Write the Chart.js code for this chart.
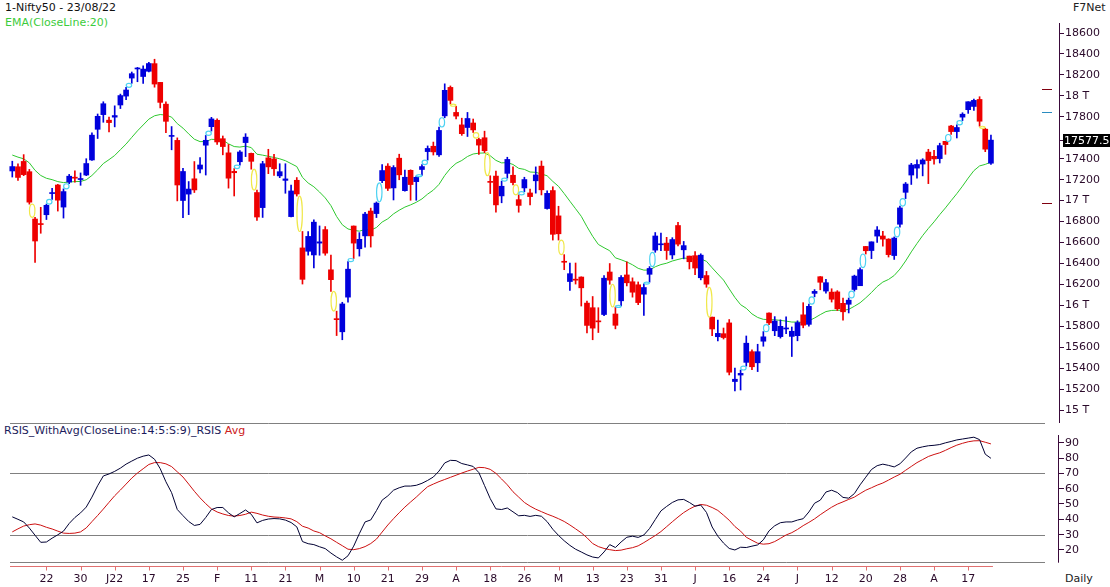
<!DOCTYPE html>
<html>
<head>
<meta charset="utf-8">
<script src="https://cdn.jsdelivr.net/npm/chart.js@4"></script>
<style>
  body { margin: 0; background: #fff; width: 1110px; height: 587px; overflow: hidden; position: relative; font-family: "DejaVu Sans", Verdana, sans-serif; }
  canvas { position: absolute; left: 0; }
  .lbl { position: absolute; font-size: 11px; line-height: 13px; white-space: nowrap; }
</style>
</head>
<body>
<div class="lbl" style="left:5px;top:1px;color:#111">1-Nifty50 - 23/08/22</div>
<div class="lbl" style="left:5px;top:16px;color:#3ccc3c">EMA(CloseLine:20)</div>
<div class="lbl" style="left:1073px;top:1px;color:#222">F7Net</div>
<div class="lbl" style="left:4px;top:424px;color:#1c1c5c">RSIS_WithAvg(CloseLine:14:5:S:9)_RSIS <span style="color:#cc2020">Avg</span></div>
<div class="lbl" style="left:1065px;top:572px;color:#222">Daily</div>
<canvas id="priceChart" width="1110" height="423" style="top:0"></canvas>
<canvas id="rsiChart" width="1110" height="164" style="top:423px"></canvas>
<script>
const dates = [
  '14/12/21','15/12/21','16/12/21','17/12/21','20/12/21','21/12/21','22/12/21','23/12/21','24/12/21','27/12/21','28/12/21','29/12/21','30/12/21','31/12/21',
  '03/01/22','04/01/22','05/01/22','06/01/22','07/01/22','10/01/22','11/01/22','12/01/22','13/01/22','14/01/22','17/01/22','18/01/22','19/01/22','20/01/22','21/01/22','24/01/22','25/01/22','27/01/22','28/01/22','31/01/22',
  '01/02/22','02/02/22','03/02/22','04/02/22','07/02/22','08/02/22','09/02/22','10/02/22','11/02/22','14/02/22','15/02/22','16/02/22','17/02/22','18/02/22','21/02/22','22/02/22','23/02/22','24/02/22','25/02/22','28/02/22',
  '02/03/22','03/03/22','04/03/22','07/03/22','08/03/22','09/03/22','10/03/22','11/03/22','14/03/22','15/03/22','16/03/22','17/03/22','21/03/22','22/03/22','23/03/22','24/03/22','25/03/22','28/03/22','29/03/22','30/03/22','31/03/22',
  '01/04/22','04/04/22','05/04/22','06/04/22','07/04/22','08/04/22','11/04/22','12/04/22','13/04/22','18/04/22','19/04/22','20/04/22','21/04/22','22/04/22','25/04/22','26/04/22','27/04/22','28/04/22','29/04/22',
  '02/05/22','04/05/22','05/05/22','06/05/22','09/05/22','10/05/22','11/05/22','12/05/22','13/05/22','16/05/22','17/05/22','18/05/22','19/05/22','20/05/22','23/05/22','24/05/22','25/05/22','26/05/22','27/05/22','30/05/22','31/05/22',
  '01/06/22','02/06/22','03/06/22','06/06/22','07/06/22','08/06/22','09/06/22','10/06/22','13/06/22','14/06/22','15/06/22','16/06/22','17/06/22','20/06/22','21/06/22','22/06/22','23/06/22','24/06/22','27/06/22','28/06/22','29/06/22','30/06/22',
  '01/07/22','04/07/22','05/07/22','06/07/22','07/07/22','08/07/22','11/07/22','12/07/22','13/07/22','14/07/22','15/07/22','18/07/22','19/07/22','20/07/22','21/07/22','22/07/22','25/07/22','26/07/22','27/07/22','28/07/22','29/07/22',
  '01/08/22','02/08/22','03/08/22','04/08/22','05/08/22','08/08/22','10/08/22','11/08/22','12/08/22','16/08/22','17/08/22','18/08/22','19/08/22','22/08/22','23/08/22'
];
const opens = [
  17283,17323,17374,17276,16824,16773,16865,17067,17149,16938,
  17177,17220,17201,17244,17388,17681,17821,17768,17797,17913,
  17998,18170,18257,18185,18235,18308,18129,17921,17613,17575,
  17001,17062,17208,17301,17529,17706,17767,17591,17456,17279,
  17371,17554,17451,17077,16933,17408,17398,17236,17193,16847,
  17194,16548,16516,16481,16594,16723,16339,15867,15747,16078,
  16757,16540,16663,16900,16876,17190,17329,17121,17405,17095,
  17289,17181,17297,17468,17519,17437,17809,18081,17842,17723,
  17698,17741,17584,17600,17183,17234,17045,17260,17242,17009,
  17121,17073,17189,17329,16924,17096,16854,16415,16227,16248,
  16270,16021,15977,15845,15912,16318,15917,16043,16290,16225,
  16196,16106,16296,16527,16578,16594,16481,16762,16530,16470,
  16474,16263,16284,15887,15700,15729,15832,15272,15334,15455,
  15557,15451,15657,15926,15757,15701,15774,15703,15710,15909,
  15818,16114,16273,16136,16126,16128,16019,16010,16151,16187,
  16562,16523,16661,16662,16632,16475,16774,17079,17244,17310,
  17349,17463,17423,17401,17566,17712,17659,17797,17868,17899,
  17966,17682,17357
];
const highs = [
  17376,17351,17439,17298,16840,16936,16967,17118,17155,17112,
  17250,17285,17264,17400,17646,17827,17944,17797,17905,18017,
  18081,18228,18272,18286,18321,18350,18129,17944,17707,17599,
  17309,17182,17373,17410,17622,17795,17781,17617,17536,17306,
  17477,17639,17454,17100,17375,17490,17442,17352,17352,17148,
  17220,16705,16705,16816,16758,16752,16480,15944,16029,16418,
  16758,16694,16888,16928,16987,17345,17353,17334,17443,17291,
  17294,17235,17343,17522,17559,17703,18115,18095,17901,17787,
  17842,17779,17597,17663,17237,17281,17186,17414,17323,17055,
  17223,17110,17322,17378,17093,17132,16946,16484,16404,16404,
  16272,16041,16084,15977,16284,16399,15984,16284,16415,16262,
  16223,16204,16370,16695,16690,16649,16646,16793,16610,16470,
  16514,16492,16324,15887,15858,15783,15864,15400,15382,15707,
  15575,15628,15749,15927,15892,15861,15891,15793,15852,16025,
  16011,16150,16275,16248,16158,16140,16070,16070,16288,16359,
  16562,16606,16752,16706,16636,16653,16948,17173,17356,17390,
  17400,17490,17481,17548,17566,17719,17724,17839,17944,17969,
  17992,17690,17625
];
const lows = [
  17225,17192,17238,16966,16410,16688,16819,17011,16900,16833,
  17161,17176,17146,17238,17383,17593,17748,17655,17704,17879,
  17964,18120,18135,18120,18228,18083,17885,17649,17485,16997,
  16837,16866,17077,17264,17244,17664,17537,17437,17119,17044,
  17339,17420,17300,16810,16839,17257,17240,17219,17070,16843,
  17043,16203,16478,16356,16478,16478,16133,15711,15671,16029,
  16447,16470,16555,16556,16838,17170,17096,17006,17199,17091,
  17003,17003,17240,17387,17435,17422,17791,17921,17779,17623,
  17612,17650,17442,17458,17067,16889,16979,17215,17150,16889,
  17085,16958,17071,17054,16917,16623,16623,16340,16142,16203,
  15993,15736,15671,15740,15900,16201,15775,15995,16185,16078,
  16006,15903,16221,16506,16521,16438,16443,16567,16444,16347,
  16293,16243,16172,15710,15659,15678,15335,15183,15191,15419,
  15385,15367,15609,15815,15710,15687,15729,15511,15661,15785,
  15800,16081,16148,16115,16031,15950,15859,15927,16135,16187,
  16490,16446,16600,16564,16461,16438,16746,17019,17154,17215,
  17236,17162,17348,17359,17442,17631,17598,17764,17833,17861,
  17710,17467,17345
];
const closes = [
  17325,17221,17248,16985,16614,16771,16955,17072,17004,17086,
  17233,17214,17204,17354,17625,17805,17925,17745,17812,18003,
  18056,18212,18258,18256,18309,18113,17938,17757,17617,17149,
  17278,17110,17102,17340,17576,17780,17560,17516,17214,17266,
  17464,17606,17375,16843,17352,17322,17304,17276,17207,17092,
  17063,16248,16658,16794,16606,16498,16245,15863,16013,16345,
  16594,16630,16871,16663,16976,17287,17117,17316,17246,17223,
  17153,17222,17325,17498,17465,17670,18053,17957,17807,17639,
  17784,17675,17530,17476,17174,16959,17137,17393,17172,16954,
  17201,17038,17245,17103,17069,16678,16683,16411,16302,16240,
  16167,15808,15782,15842,16259,16240,15809,16266,16215,16125,
  16026,16170,16352,16662,16585,16523,16628,16584,16570,16416,
  16356,16479,16202,15774,15732,15692,15361,15294,15350,15638,
  15413,15557,15699,15832,15850,15799,15780,15752,15835,15810,
  15990,16133,16220,16216,16058,15967,15938,16049,16279,16341,
  16521,16606,16719,16632,16484,16642,16930,17158,17340,17345,
  17388,17382,17398,17525,17535,17659,17698,17825,17944,17957,
  17758,17491,17577.5
];
const ema20 = [
  17435,17415,17399,17360,17289,17240,17213,17200,17181,17172,
  17178,17181,17183,17199,17240,17294,17354,17391,17431,17486,
  17540,17604,17666,17722,17778,17810,17822,17816,17797,17735,
  17692,17637,17586,17563,17564,17585,17583,17577,17542,17516,
  17511,17520,17506,17443,17434,17423,17412,17399,17381,17353,
  17325,17222,17168,17132,17082,17026,16952,16848,16769,16729,
  16716,16708,16724,16718,16743,16795,16826,16873,16908,16938,
  16959,16984,17016,17062,17100,17155,17240,17308,17356,17383,
  17421,17445,17453,17455,17428,17384,17360,17363,17345,17308,
  17298,17273,17270,17254,17237,17183,17136,17067,16994,16922,
  16850,16751,16659,16581,16550,16521,16453,16435,16414,16387,
  16353,16336,16337,16368,16389,16402,16423,16438,16451,16448,
  16439,16443,16420,16358,16299,16241,16157,16075,16006,15971,
  15918,15884,15866,15863,15862,15856,15849,15840,15840,15837,
  15852,15879,15911,15940,15951,15953,15952,15961,15991,16024,
  16071,16122,16179,16222,16247,16285,16346,16423,16510,16590,
  16666,16734,16797,16866,16930,16999,17066,17138,17215,17286,
  17331,17346,17368
];
const rsi = [
  41.6,40,38.3,34.3,29.6,25,25.2,27.7,29.9,32.3,
  37.3,41.2,44.2,48,54.5,61.9,68.3,69.6,71.3,73.4,
  76,78,79.9,81.2,82,79.2,73,64.5,57.4,46.4,
  42.4,38.6,36,36.7,41.2,46.4,47.7,47.7,44.2,41.6,
  43.8,46.1,43.3,37.7,39.3,40.2,40.5,40.3,39.5,37.9,
  35.1,25.5,24.1,23.5,22.1,20.9,18,15.5,13.3,16.2,
  22.5,30.7,38.3,39.6,45.7,52.5,55.3,59,60.6,61.7,
  61.7,62.2,63.5,65.4,67.6,71.5,76.8,78.5,78.3,76.4,
  75.5,74.5,70.5,62,53.5,46.8,46.4,47.4,44.9,42.3,
  42.6,41.9,42.6,42,38.5,33.5,29.5,26,23,20.5,
  18.7,16.8,15.4,14.8,18.7,23.5,21.6,25.2,28.3,29,
  28.2,29.8,34,39.8,45.5,48.4,51,52.7,53,51,
  48.6,49.3,44.5,35,29,24.5,21,20,21.8,21.6,
  22.5,23.3,26.6,32.5,35.8,37.8,38.3,38.3,39.5,40.4,
  44.8,50.5,52.5,57.8,59,57.5,54.3,53.8,56.8,62.5,
  67.5,72.5,75,76,75.2,74.2,76.2,80,84,86.4,
  87.3,88,88.3,88.8,89.9,90.8,91.8,92.4,93,93.6,
  92,82.5,79.8
];
const rsiAvg = [
  31.8,33.8,35.6,36.5,37,36.2,34.8,33.7,32.3,31,
  30.8,31,31.8,34.4,38.5,42.5,46.7,51.1,55.4,59.1,
  63,66.9,70.2,73,75.8,77,77,76.2,74.4,71,
  67.6,63,58.3,54,50.2,46.8,44.8,43.5,42.5,42.1,
  42.5,43.3,44.7,43.9,42.8,42,41.5,41.3,40.9,40.3,
  38.5,35.5,34.3,32.4,31.3,29.2,27.3,25,22.8,20.5,
  20.2,20.9,22.2,24.2,27.1,31.7,36.3,40.4,44.3,48,
  51.3,54.5,58,61.3,63,64.6,66,67.4,68.8,70.2,
  71.5,72.7,73.9,73.7,72.6,70,66.3,62.5,58,54.5,
  51,48.6,46.6,45,43.4,42,40.4,38.6,36.3,33.8,
  31.2,28,24.2,22.2,21,20.2,19.6,19.9,20.8,21.5,
  22.7,24.8,27.1,29.4,32,35.2,38.4,41.5,44.4,46.7,
  48.6,49.7,49.2,47.7,45.8,42.7,39.4,35.3,32.3,28.3,
  26.3,24.4,23.8,24.1,25.5,27.6,29.8,31.3,33.4,35.9,
  38,40.3,43,45.5,47.9,49.9,51.4,53,54.5,56.8,
  59,60.6,62.3,63.7,65.6,67.6,69.4,72,74.5,77,
  79,81,82.3,83.4,85,86.8,88.4,89.6,90.6,91.2,
  91.3,90.3,89.2
];
const tickLabels = ['22','30','J22','17','25','F','11','21','M','10','21','29','A','18','26','M','13','23','31','J','16','24','J','12','20','28','A','17'];
const priceTicks = [15000,15200,15400,15600,15800,16000,16200,16400,16600,16800,17000,17200,17400,17600,17800,18000,18200,18400,18600];
const rsiTicks = [20,30,40,50,60,70,80,90];
const rsiLevels = [70,30];
const levelMarks = [18062, 17848, 16981];
const levelColors = ['#800010', '#2a8cc0', '#800010'];

Chart.defaults.font.family = '"DejaVu Sans", Verdana, sans-serif';
Chart.defaults.font.size = 11;

const idx = closes.map((_, i) => i);
const candleColor = idx.map(i => closes[i] >= opens[i] ? '#0000dc' : '#ee0000');
const last = closes.length - 1;
const xMin = -2.16, xMax = 183.96;
const axisColor = '#3a0a3a';
const labelColor = '#2a0a2a';

// keep the vertical axes from reserving half-label room at both ends
function fitRightAxis(s) {
  s.width = 51;
  s.paddingTop = 0;
  s.paddingBottom = 0;
}

const priceDeco = {
  id: 'priceDeco',
  afterDatasetsDraw(chart) {
    const { ctx, scales: { x, y } } = chart;
    ctx.save();
    ctx.lineWidth = 1.2;
    for (let i = 1; i < closes.length; i++) {
      let top, bot, col;
      if (lows[i] > highs[i - 1]) { top = lows[i]; bot = highs[i - 1]; col = '#4cd2f2'; }
      else if (highs[i] < lows[i - 1]) { top = lows[i - 1]; bot = highs[i]; col = '#f0e84a'; }
      else continue;
      const y1 = y.getPixelForValue(top), y2 = y.getPixelForValue(bot);
      ctx.strokeStyle = col;
      ctx.beginPath();
      ctx.ellipse(x.getPixelForValue(i - 0.5), (y1 + y2) / 2, 2.7, Math.max((y2 - y1) / 2, 1), 0, 0, Math.PI * 2);
      ctx.stroke();
    }
    ctx.restore();
  },
  afterDraw(chart) {
    const { ctx, chartArea, scales: { y } } = chart;
    ctx.save();
    ctx.lineWidth = 1;
    levelMarks.forEach((v, k) => {
      const py = Math.round(y.getPixelForValue(v)) + 0.5;
      ctx.strokeStyle = levelColors[k];
      ctx.beginPath();
      ctx.moveTo(chartArea.right - 17, py);
      ctx.lineTo(chartArea.right - 7, py);
      ctx.stroke();
    });
    const py = Math.round(y.getPixelForValue(closes[last]));
    ctx.strokeStyle = axisColor;
    ctx.beginPath();
    ctx.moveTo(chartArea.right, py + 0.5);
    ctx.lineTo(chartArea.right + 4, py + 0.5);
    ctx.stroke();
    ctx.fillStyle = '#000';
    ctx.fillRect(chartArea.right + 4, py - 6, 60, 13);
    ctx.fillStyle = '#fff';
    ctx.textBaseline = 'middle';
    ctx.textAlign = 'left';
    ctx.font = '11px "DejaVu Sans", Verdana, sans-serif';
    ctx.fillText(String(closes[last]), chartArea.right + 5, py + 1);
    ctx.restore();
  }
};

new Chart(document.getElementById('priceChart'), {
  type: 'bar',
  data: {
    datasets: [
      { data: idx.map(i => ({ x: i, y: [opens[i], closes[i]] })), backgroundColor: candleColor, barThickness: 5, minBarLength: 1, grouped: false, order: 1 },
      { data: idx.map(i => ({ x: i, y: [lows[i], highs[i]] })), backgroundColor: candleColor, barThickness: 1, grouped: false, order: 2 },
      { type: 'line', data: idx.map(i => ({ x: i, y: ema20[i] })), borderColor: '#2ec82e', borderWidth: 1, pointRadius: 0, tension: 0, order: 3 }
    ]
  },
  options: {
    responsive: false,
    animation: false,
    devicePixelRatio: 1,
    layout: { padding: { top: 23, left: 0, right: 0, bottom: 0 } },
    plugins: { legend: { display: false }, tooltip: { enabled: false } },
    scales: {
      x: { type: 'linear', min: xMin, max: xMax, offset: false, display: false, grid: { offset: false } },
      y: {
        position: 'right', min: 14876, max: 18696,
        afterBuildTicks: s => { s.ticks = priceTicks.filter(v => Math.abs(v - closes[last]) > 100).map(v => ({ value: v })); },
        afterFit: fitRightAxis,
        ticks: { autoSkip: false, color: labelColor, padding: 1, callback: v => v % 1000 === 0 ? (v / 1000) + ' T' : String(v) },
        grid: { drawOnChartArea: false, drawTicks: true, tickLength: 5, color: axisColor },
        border: { display: true, color: axisColor }
      }
    }
  },
  plugins: [priceDeco]
});

const rsiDeco = {
  id: 'rsiDeco',
  beforeDatasetsDraw(chart) {
    const { ctx, chartArea, scales: { x, y } } = chart;
    ctx.save();
    ctx.lineWidth = 1;
    ctx.strokeStyle = '#808080';
    const ys = [chartArea.top + 0.5, ...rsiLevels.map(v => Math.round(y.getPixelForValue(v)) + 0.5), Math.round(chartArea.bottom) - 0.5];
    ys.forEach(py => {
      ctx.beginPath();
      ctx.moveTo(chartArea.left + 10, py);
      ctx.lineTo(chartArea.right - 14, py);
      ctx.stroke();
    });
    const ay = Math.round(chartArea.bottom) + 3.5;
    ctx.strokeStyle = '#e07070';
    ctx.beginPath();
    ctx.moveTo(chartArea.left + 10, ay);
    ctx.lineTo(x.getPixelForValue(last) + 2, ay);
    tickLabels.forEach((_, k) => {
      const px = Math.round(x.getPixelForValue((k + 1) * 6)) + 0.5;
      ctx.moveTo(px, ay);
      ctx.lineTo(px, ay + 4);
    });
    ctx.stroke();
    ctx.strokeStyle = axisColor;
    ctx.beginPath();
    ctx.moveTo(chartArea.right - 0.5, y.getPixelForValue(95));
    ctx.lineTo(chartArea.right - 0.5, chartArea.bottom);
    ctx.stroke();
    ctx.restore();
  }
};

new Chart(document.getElementById('rsiChart'), {
  type: 'line',
  data: {
    datasets: [
      { data: idx.map(i => ({ x: i, y: rsi[i] })), borderColor: '#000033', borderWidth: 1, pointRadius: 0, tension: 0 },
      { data: idx.map(i => ({ x: i, y: rsiAvg[i] })), borderColor: '#cc1010', borderWidth: 1, pointRadius: 0, tension: 0 }
    ]
  },
  options: {
    responsive: false,
    animation: false,
    devicePixelRatio: 1,
    layout: { padding: 0 },
    plugins: { legend: { display: false }, tooltip: { enabled: false } },
    scales: {
      x: {
        type: 'linear', min: xMin, max: xMax, offset: false,
        afterBuildTicks: s => { s.ticks = tickLabels.map((_, k) => ({ value: (k + 1) * 6 })); },
        afterFit: s => { s.height = 24.3; s.paddingLeft = 0; s.paddingRight = 0; },
        ticks: { autoSkip: false, maxRotation: 0, color: labelColor, padding: 10, callback: (v, k) => tickLabels[k] },
        grid: { display: false, drawTicks: false },
        border: { display: false }
      },
      y: {
        position: 'right', min: 11.7, max: 102.85,
        afterBuildTicks: s => { s.ticks = rsiTicks.map(v => ({ value: v })); },
        afterFit: fitRightAxis,
        ticks: { autoSkip: false, color: labelColor, padding: 1 },
        grid: { drawOnChartArea: false, drawTicks: true, tickLength: 5, color: axisColor },
        border: { display: false }
      }
    }
  },
  plugins: [rsiDeco]
});
</script>
</body>
</html>
